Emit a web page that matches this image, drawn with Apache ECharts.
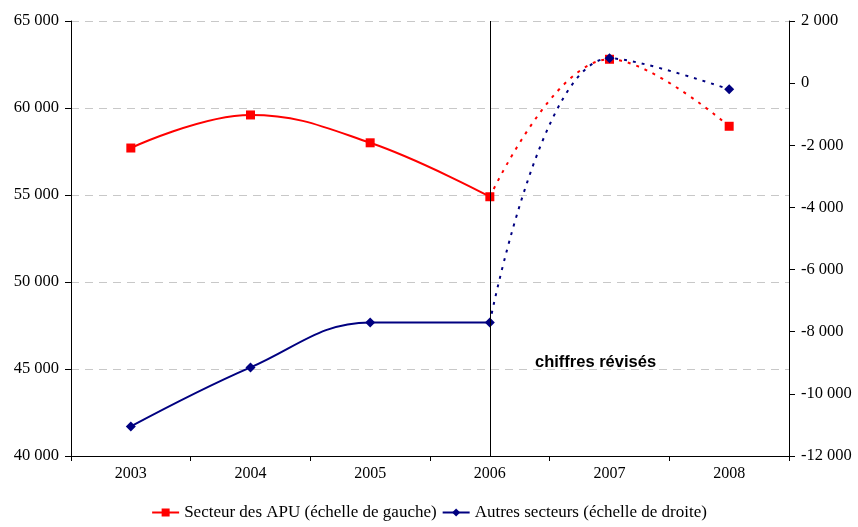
<!DOCTYPE html>
<html><head><meta charset="utf-8">
<script src="https://cdn.jsdelivr.net/npm/echarts@6/dist/echarts.min.js"></script>
<style>html,body{margin:0;padding:0;background:#fff}#c{width:858px;height:527px}</style>
</head><body><div id="c"></div>
<script>
const years = ['2003','2004','2005','2006','2007','2008'];
const apuValues = [57700, 59600, 58000, 54900, 62800, 58950];
const autresValues = [-11050, -9150, -7700, -7700, 800, -200];
const revisedFrom = 3; // index of 2006: later values are revised figures
const apuName = 'Secteur des APU (échelle de gauche)';
const autresName = 'Autres secteurs (échelle de droite)';
const annotation = 'chiffres révisés';

function fmt(v){
  const s = Math.abs(v).toString().replace(/\B(?=(\d{3})+(?!\d))/g, ' ');
  return (v < 0 ? '-' : '') + s;
}
function solidPart(arr){ return arr.map((v,i)=> i<=revisedFrom ? v : null); }
function dashPart(arr){ return arr.map((v,i)=> i<revisedFrom ? null : (i===revisedFrom ? {value:v, symbolSize:0} : v)); }

const serif = 'Liberation Serif';
const chart = echarts.init(document.getElementById('c'), null, {renderer:'canvas'});
chart.setOption({
  animation:false,
  backgroundColor:'#fff',
  grid:{left:71, right:69, top:21, bottom:71, containLabel:false},
  legend:{
    bottom:1, left:'center', itemWidth:27, itemHeight:10, itemGap:5,
    textStyle:{fontFamily:serif, fontSize:17, color:'#000'},
    data:[apuName, autresName]
  },
  xAxis:{
    type:'category', data:years, boundaryGap:true,
    axisLine:{onZero:false, lineStyle:{color:'#000', width:1}},
    axisTick:{show:true, length:5, lineStyle:{color:'#000'}},
    axisLabel:{fontFamily:serif, fontSize:16, color:'#000', margin:10}
  },
  yAxis:[
    {type:'value', min:40000, max:65000, interval:5000, position:'left',
     axisLine:{show:true, lineStyle:{color:'#000'}},
     axisTick:{show:true, length:6, lineStyle:{color:'#000'}},
     axisLabel:{fontFamily:serif, fontSize:16.5, color:'#000', formatter:fmt, margin:12},
     splitLine:{show:true, lineStyle:{color:'#c8c8c8', type:[8,6], width:1}}},
    {type:'value', min:-12000, max:2000, interval:2000, position:'right',
     axisLine:{show:true, lineStyle:{color:'#000'}},
     axisTick:{show:true, length:6, lineStyle:{color:'#000'}},
     axisLabel:{fontFamily:serif, fontSize:16.5, color:'#000', formatter:fmt, margin:12},
     splitLine:{show:false}}
  ],
  graphic:[{
    type:'text', left:535, top:354,
    style:{text:annotation, fontFamily:'Liberation Sans', fontWeight:'bold', fontSize:16.5, fill:'#000'}
  }],
  series:[
    {name:apuName, type:'line', yAxisIndex:0, data:solidPart(apuValues), smooth:0.4,
     symbol:'rect', symbolSize:9, color:'#ff0000',
     lineStyle:{color:'#ff0000', width:2}, itemStyle:{color:'#ff0000'},
     markLine:{silent:true, symbol:'none', label:{show:false},
       lineStyle:{color:'#000', type:'solid', width:1},
       data:[{xAxis:years[revisedFrom]}]}},
    {name:apuName, type:'line', yAxisIndex:0, data:dashPart(apuValues), smooth:0.4,
     symbol:'rect', symbolSize:9, color:'#ff0000',
     lineStyle:{color:'#ff0000', width:2, type:[3,6]}, itemStyle:{color:'#ff0000'}},
    {name:autresName, type:'line', yAxisIndex:1, data:solidPart(autresValues), smooth:0.4,
     symbol:'diamond', symbolSize:10, color:'#000080',
     lineStyle:{color:'#000080', width:2}, itemStyle:{color:'#000080'}},
    {name:autresName, type:'line', yAxisIndex:1, data:dashPart(autresValues), smooth:0.4,
     symbol:'diamond', symbolSize:10, color:'#000080',
     lineStyle:{color:'#000080', width:2, type:[3,6]}, itemStyle:{color:'#000080'}}
  ]
});
</script></body></html>
